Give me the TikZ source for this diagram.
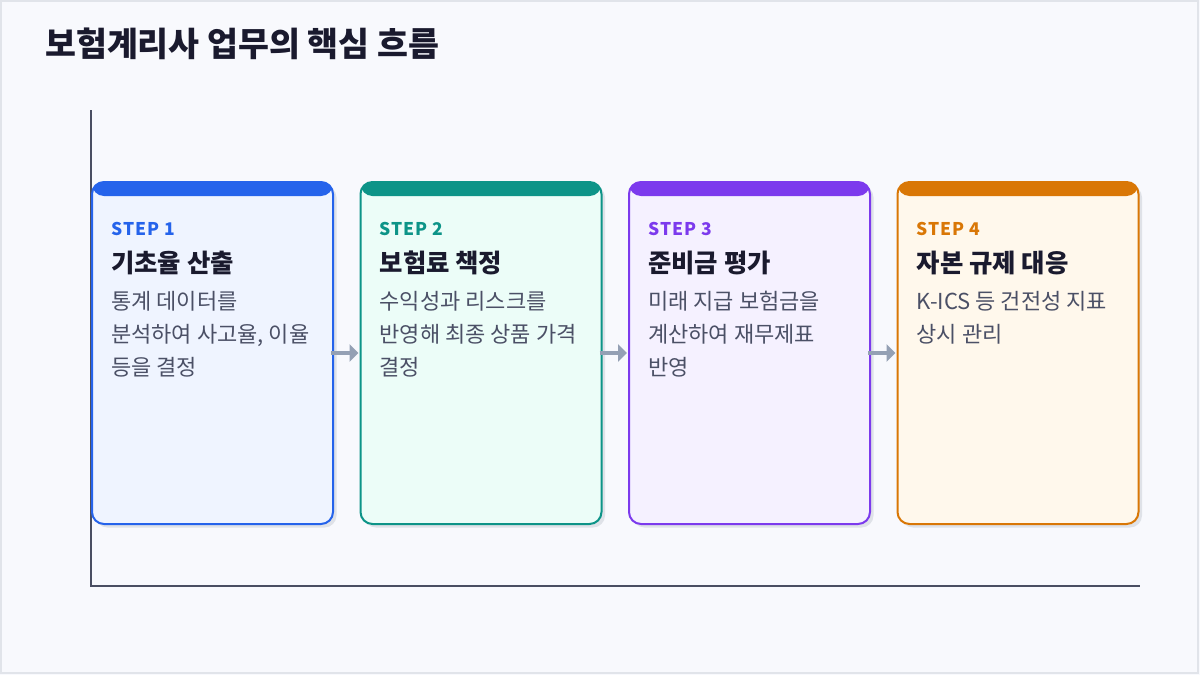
\documentclass[tikz,border=0pt]{standalone}
\usepackage{fontspec}
\setmainfont{Noto Sans CJK KR}
\usetikzlibrary{calc,shadows,arrows.meta}
\definecolor{bg}{HTML}{F8F9FD}
\definecolor{frame}{HTML}{E1E4EA}
\definecolor{ink}{HTML}{1A1A2E}
\definecolor{desc}{HTML}{4B5066}
\definecolor{axisc}{HTML}{4A4E62}
\definecolor{arrc}{HTML}{94A0B4}
\definecolor{shadowc}{HTML}{DFE2E8}
\definecolor{cA}{HTML}{2563EB}\definecolor{fA}{HTML}{EFF4FF}
\definecolor{cB}{HTML}{0D9488}\definecolor{fB}{HTML}{ECFDF8}
\definecolor{cC}{HTML}{7C3AED}\definecolor{fC}{HTML}{F5F1FF}
\definecolor{cD}{HTML}{D97706}\definecolor{fD}{HTML}{FFF8EC}
\tikzset{
  card/.style 2 args={draw=#1, fill=#2, line width=2pt, rounded corners=12pt,
    minimum width=241pt, minimum height=342pt, inner sep=0pt,
    drop shadow={shadow xshift=3.5pt, shadow yshift=-3.5pt, fill=shadowc, opacity=1},
    path picture={\fill[#1] (path picture bounding box.north west) rectangle ([yshift=-14pt]path picture bounding box.north east);}},
  steplbl/.style={anchor=base west, inner sep=0pt, font=\fontsize{17.5}{20}\selectfont\bfseries\addfontfeatures{LetterSpace=6}},
  ttl/.style={anchor=base west, inner sep=0pt, text=ink, font=\fontsize{25.4}{30}\selectfont\bfseries},
  dsc/.style={anchor=base west, inner sep=0pt, text=desc, font=\fontsize{22}{33}\selectfont},
  arr/.style={draw=arrc, line width=4pt, -{Triangle[length=9pt,width=17pt]}, shorten <=-3pt, shorten >=1pt},
  axisl/.style={draw=axisc, line width=2pt}
}
\begin{document}
\begin{tikzpicture}[x=1pt,y=-1pt]
\useasboundingbox (0,0) rectangle (1200,675);
\fill[bg] (0,0) rectangle (1200,675);
\draw[frame, line width=2pt] (1,1) rectangle (1198,673);
\node[anchor=base west, inner sep=0pt, text=ink, font=\fontsize{33.6}{40}\selectfont\bfseries] (title) at (45,56.8) {보험계리사 업무의 핵심 흐름};
% axes
\coordinate (ytop) at (91,110);
\coordinate (orig) at (91,586);
\coordinate (xend) at (1140,586);
\draw[axisl] (ytop) -- (orig) -- (xend);
% cards
\node[card={cA}{fA}] (c1) at (212.5,353) {};
\node[card={cB}{fB}] (c2) at (481,353) {};
\node[card={cC}{fC}] (c3) at (749.5,353) {};
\node[card={cD}{fD}] (c4) at (1018,353) {};
% arrows
\draw[arr] (c1.east) -- (c2.west);
\draw[arr] (c2.east) -- (c3.west);
\draw[arr] (c3.east) -- (c4.west);
% texts
\foreach \c/\col/\n/\t/\d in {
  c1/cA/1/{기초율 산출}/{통계 데이터를\\분석하여 사고율, 이율\\등을 결정},
  c2/cB/2/{보험료 책정}/{수익성과 리스크를\\반영해 최종 상품 가격\\결정},
  c3/cC/3/{준비금 평가}/{미래 지급 보험금을\\계산하여 재무제표\\반영},
  c4/cD/4/{자본 규제 대응}/{K-ICS 등 건전성 지표\\상시 관리}}{
  \node[steplbl, text=\col] (\c s) at ($(\c.north west)+(20,54.4)$) {STEP \n};
  \node[ttl] (\c t) at ($(\c.north west)+(20,91)$) {\t};
  \node[dsc] (\c d) at ($(\c.north west)+(20,128.4)$) {\begin{tabular}[t]{@{}l@{}}\d\end{tabular}};
}
\end{tikzpicture}
\end{document}
